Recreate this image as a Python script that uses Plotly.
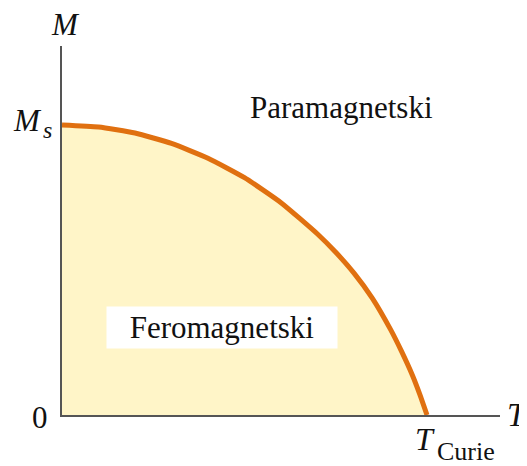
import plotly.graph_objects as go

# curve: T / T_Curie vs M / M_s
t_vals = [0.0, 0.1, 0.2, 0.3, 0.4, 0.5, 0.6, 0.7, 0.75, 0.8, 0.85, 0.9, 0.93, 0.96, 0.98, 1.0]
m_vals = [1.0, 0.993, 0.972, 0.936, 0.885, 0.818, 0.732, 0.624, 0.561, 0.489, 0.403, 0.295, 0.220, 0.137, 0.072, 0.0]

LINE = "#E07010"
FILL = "#FFF5C8"
AXIS = "#555555"
TEXT = "#111111"
SERIF = "Times New Roman, Liberation Serif, Tinos, serif"

fig = go.Figure()
fig.add_trace(go.Scatter(
    x=t_vals, y=m_vals,
    mode="lines",
    line=dict(color=LINE, width=5, shape="spline", smoothing=0.5),
    fill="tozeroy",
    fillcolor=FILL,
    hoverinfo="skip",
))

# (x, y) in paper units of the plot area, text, font size
labels = [
    (0.007, 1.058, "<i>M</i>", 31),
    (-0.078, 0.799, "<i>M</i>", 31),
    (-0.032, 0.772, "<i>s</i>", 24),
    (-0.050, -0.008, "0", 31),
    (1.039, 0.0, "<i>T</i>", 33),
    (0.829, -0.065, "<i>T</i>", 32),
    (0.922, -0.100, "Curie", 26),
    (0.639, 0.832, "Paramagnetski", 31),
]
for x, y, text, size in labels:
    fig.add_annotation(
        x=x, y=y, xref="paper", yref="paper", text=text, showarrow=False,
        xanchor="center", yanchor="middle",
        font=dict(family=SERIF, size=size, color=TEXT),
    )

# label with white box
fig.add_annotation(
    x=0.365, y=0.179, xref="paper", yref="paper",
    text="Feromagnetski", showarrow=False,
    width=230, height=41, bgcolor="white", borderpad=0,
    font=dict(family=SERIF, size=31, color=TEXT),
)

fig.update_layout(
    width=519, height=458,
    margin=dict(l=54, r=27, t=38, b=51),
    paper_bgcolor="white",
    plot_bgcolor="white",
    showlegend=False,
    font=dict(family=SERIF),
    xaxis=dict(range=[0, 1.2], showgrid=False, zeroline=False, showticklabels=False,
               ticks="", showline=True, linecolor=AXIS, linewidth=2),
    yaxis=dict(range=[0, 1.272], showgrid=False, zeroline=False, showticklabels=False,
               ticks="", showline=True, linecolor=AXIS, linewidth=2),
)

fig.write_html("out.html")
